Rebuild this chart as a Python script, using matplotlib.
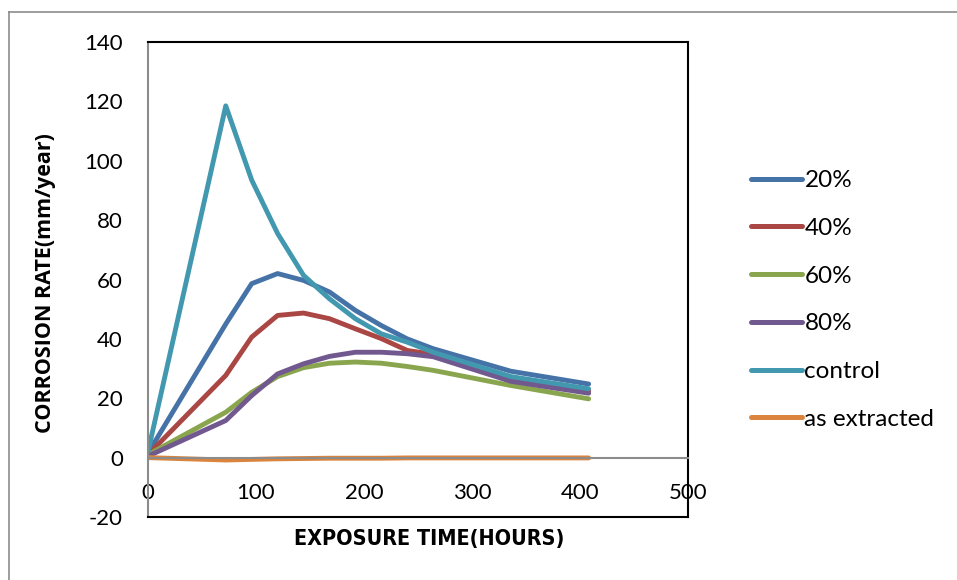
import matplotlib
matplotlib.use("Agg")
import matplotlib.pyplot as plt
from matplotlib.lines import Line2D

plt.rcParams["axes.unicode_minus"] = False

hours = [0, 72, 96, 120, 144, 168, 192, 216, 240, 264, 336, 408]
s20 = [1.5, 45, 58.6, 62, 59.7, 55.8, 49.6, 44.5, 40, 36.7, 29.1, 24.8]
s40 = [1, 27.7, 40.6, 47.9, 48.7, 46.8, 43.4, 40.1, 36.1, 34.8, 26.5, 22.5]
s60 = [1, 15.3, 22, 27.3, 30.3, 31.8, 32.2, 31.8, 30.7, 29.4, 24.3, 19.8]
s80 = [0.5, 12.5, 20.9, 28.2, 31.6, 34.1, 35.5, 35.5, 35, 34, 25.7, 21.7]
control = [2, 118.5, 93.5, 75.5, 61.4, 53.5, 46.8, 41.7, 38.9, 35.5, 27.3, 23.2]
extracted = [0, -0.8, -0.6, -0.4, -0.3, -0.2, -0.2, -0.2, -0.1, -0.1, -0.1, -0.1]

labels = ["20%", "40%", "60%", "80%", "control", "as extracted"]
colors = ["#4572A7", "#AA4643", "#89A54E", "#71588F", "#4198AF", "#DB843D"]
series = [s20, s40, s60, s80, control, extracted]

W, H = 957, 580
fig = plt.figure(figsize=(W / 100, H / 100), dpi=100)
fig.patch.set_facecolor("white")

# outer chart border
fig.add_artist(Line2D([9 / W, 9 / W], [0, 1 - 12 / H], color="#8c8c8c", lw=1.2))
fig.add_artist(Line2D([9 / W, 1], [1 - 12 / H, 1 - 12 / H], color="#8c8c8c", lw=1.2))

L, R, T, B = 148, 688, 42, 517
ax = fig.add_axes([L / W, (H - B) / H, (R - L) / W, (B - T) / H])

for ys, c, lab in zip(series, colors, labels):
    ax.plot(hours, ys, color=c, lw=3.5, label=lab, solid_capstyle="round",
            solid_joinstyle="round")

ax.set_xlim(0, 500)
ax.set_ylim(-20, 140)
ax.set_xticks([0, 100, 200, 300, 400, 500])
ax.set_yticks(range(-20, 141, 20))

ax.tick_params(axis="both", length=0, labelsize=16, labelfontfamily="Lato")
ax.tick_params(axis="y", pad=18)
ax.tick_params(axis="x", pad=18)

ax.spines["bottom"].set_position(("data", 0))
ax.spines["bottom"].set_color("#8c8c8c")
ax.spines["bottom"].set_linewidth(1.5)
ax.spines["left"].set_color("#8c8c8c")
ax.spines["left"].set_linewidth(1.5)
ax.spines["top"].set_color("black")
ax.spines["top"].set_linewidth(1.5)
ax.spines["right"].set_color("black")
ax.spines["right"].set_linewidth(1.5)
ax.plot([0, 1], [0, 0], transform=ax.transAxes, color="black", lw=1.5,
        clip_on=False, zorder=5)

ax.set_xlabel("EXPOSURE TIME(HOURS)", fontsize=15.5, fontweight="bold",
              family="DejaVu Sans", fontstretch="condensed")
ax.xaxis.set_label_coords((429 - L) / (R - L), -0.025)
ax.set_ylabel("CORROSION RATE(mm/year)", fontsize=15.5, fontweight="bold",
              family=["Open Sans", "DejaVu Sans"], va="center")
ax.yaxis.set_label_coords((45 - L) / (R - L), (B - 283) / (B - T))

leg = ax.legend(loc="upper left", bbox_to_anchor=(751 / W, 1 - 170 / H),
                bbox_transform=fig.transFigure, frameon=False,
                prop={"family": ["Lato", "DejaVu Sans"], "size": 17.5},
                handlelength=2.1, handletextpad=0.1, labelspacing=1.1,
                borderaxespad=0, borderpad=0)
for h in leg.get_lines():
    h.set_linewidth(3.6)

fig.savefig("out.png", dpi=100, facecolor="white")
